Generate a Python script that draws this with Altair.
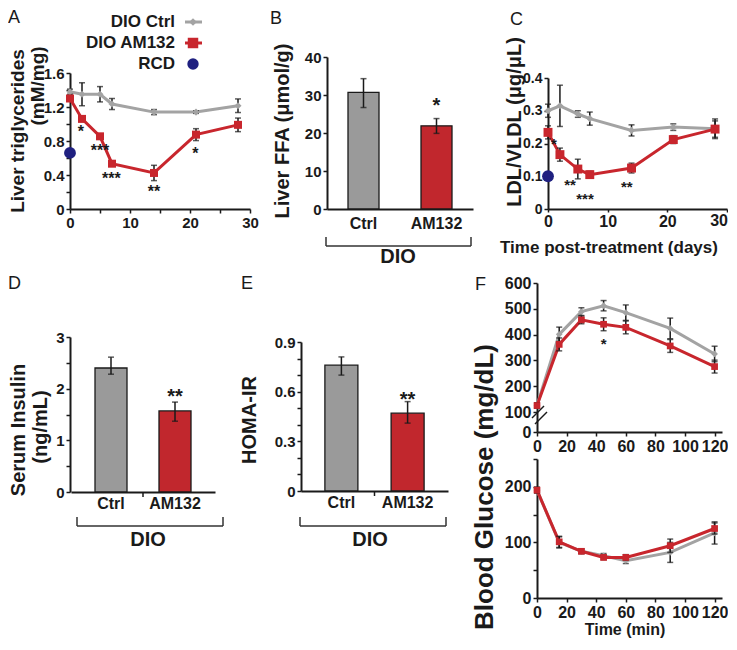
import altair as alt
import pandas as pd

FONT = "Liberation Sans"
RED = "#c8262d"
GRAY = "#a3a3a3"
NAVY = "#1f2080"
INK = "#1a1a1a"
BAR_GRAY = "#9a9a9a"
BAR_RED = "#c1272d"

# ---------------- data ----------------
# A: liver triglycerides (mM/mg) vs days
a_days = [0, 2, 5, 7, 14, 21, 28]
a_ctrl = [1.38, 1.35, 1.35, 1.235, 1.14, 1.14, 1.215]
a_ctrl_err = [0.03, 0.135, 0.09, 0.065, 0.03, 0.015, 0.08]
a_am = [1.30, 1.06, 0.855, 0.533, 0.424, 0.875, 0.99]
a_am_err = [0.03, 0.02, 0.03, 0.03, 0.09, 0.07, 0.08]
a_rcd = [0.66]
a_star_x = [1.8, 5.0, 6.9, 14, 20.9]
a_star_y = [0.95, 0.73, 0.40, 0.25, 0.69]
a_star_t = ["*", "***", "***", "**", "*"]

# B: liver FFA
groups = ["Ctrl", "AM132"]
bar_fill = [BAR_GRAY, BAR_RED]
b_mean = [30.7, 21.9]
b_lo = [26.7, 19.9]
b_hi = [34.3, 23.8]
b_star_y = [28.2]
b_star_t = ["*"]

# C: LDL/VLDL (ug/uL) vs days
c_days = [0, 2, 5, 7, 14, 21, 28]
c_ctrl = [0.30, 0.315, 0.29, 0.276, 0.24, 0.25, 0.245]
c_ctrl_err = [0.02, 0.063, 0.01, 0.02, 0.017, 0.01, 0.03]
c_am = [0.234, 0.166, 0.122, 0.105, 0.125, 0.212, 0.244]
c_am_err = [0.02, 0.02, 0.03, 0.01, 0.015, 0.012, 0.025]
c_rcd = [0.10]
c_star_x = [1.0, 3.7, 6.2, 13.2]
c_star_y = [0.21, 0.085, 0.043, 0.08]
c_star_t = ["*", "**", "***", "**"]

# D: serum insulin
d_mean = [2.40, 1.57]
d_lo = [2.28, 1.37]
d_hi = [2.61, 1.74]
d_star_y = [1.92]
d_star_t = ["**"]

# E: HOMA-IR
e_mean = [0.76, 0.47]
e_lo = [0.70, 0.41]
e_hi = [0.81, 0.54]
e_star_y = [0.574]
e_star_t = ["**"]

# F: blood glucose (mg/dL) vs time (min)
f_time = [0, 15, 30, 45, 60, 90, 120]
ft_ctrl = [125, 401, 489, 512, 485, 424, 325]
ft_ctrl_err = [10, 28, 15, 20, 30, 40, 30]
ft_am = [125, 362, 457, 440, 428, 356, 276]
ft_am_err = [10, 25, 15, 25, 25, 25, 25]
ft_star_x = [45]
ft_star_y = [379]
ft_star_t = ["*"]
fb_ctrl = [194, 100, 84, 76, 67, 82, 117]
fb_ctrl_err = [5, 10, 4, 4, 5, 18, 20]
fb_am = [194, 101, 84, 73, 73, 94, 125]
fb_am_err = [5, 10, 4, 4, 5, 12, 10]

one = pd.DataFrame({"k": [0]})


def T(s, x, y, size, angle=0, align="center", baseline="middle", weight="bold", color=INK):
    return alt.Chart(one).mark_text(
        text=s, font=FONT, fontSize=size, fontWeight=weight, angle=angle,
        align=align, baseline=baseline, color=color
    ).encode(x=alt.value(x), y=alt.value(y))


def R(x1, y1, x2, y2, color=INK, w=1.5):
    return alt.Chart(one).mark_rule(color=color, strokeWidth=w).encode(
        x=alt.value(x1), y=alt.value(y1), x2=alt.value(x2), y2=alt.value(y2))


def P(x, y, shape, color, size):
    return alt.Chart(one).mark_point(shape=shape, filled=True, opacity=1, color=color, size=size).encode(
        x=alt.value(x), y=alt.value(y))


def qaxis(values, expr=None, size=15, tick=4, pad=2, flush=False):
    kw = dict(values=values, title=None, grid=False, labelFont=FONT, labelFontWeight="bold",
              labelFontSize=size, labelColor=INK, domainColor=INK, domainWidth=2,
              tickColor=INK, tickWidth=1.5, tickSize=tick, labelPadding=pad,
              labelOverlap=False, labelFlush=flush)
    if expr:
        kw["labelExpr"] = expr
    return alt.Axis(**kw)


def line_layers(x, ctrl, ctrl_err, am, am_err, xs, ys, xa, ya, csize, asize):
    X = alt.X("x:Q", scale=xs, axis=xa)
    out = []
    for mean, err, color, shape, size in [(ctrl, ctrl_err, GRAY, "diamond", csize),
                                          (am, am_err, RED, "square", asize)]:
        df = pd.DataFrame({"x": x, "y": mean,
                           "lo": [m - e for m, e in zip(mean, err)],
                           "hi": [m + e for m, e in zip(mean, err)]})
        b = alt.Chart(df)
        out += [
            b.mark_line(color=color, strokeWidth=3).encode(x=X, y=alt.Y("y:Q", scale=ys, axis=ya)),
            b.mark_rule(color=INK, strokeWidth=1.5).encode(x=X, y=alt.Y("lo:Q", scale=ys, axis=ya), y2="hi:Q"),
            b.mark_tick(color=INK, orient="horizontal", size=6, thickness=1.5).encode(x=X, y=alt.Y("lo:Q", scale=ys, axis=ya)),
            b.mark_tick(color=INK, orient="horizontal", size=6, thickness=1.5).encode(x=X, y=alt.Y("hi:Q", scale=ys, axis=ya)),
            b.mark_point(shape=shape, filled=True, opacity=1, size=size, color=color).encode(x=X, y=alt.Y("y:Q", scale=ys, axis=ya)),
        ]
    return out, X


def star_layer(xv, yv, tv, X, ys, ya, size=16):
    df = pd.DataFrame({"x": xv, "y": yv, "t": tv})
    return alt.Chart(df).mark_text(font=FONT, fontWeight="bold", fontSize=size, color=INK, dy=4).encode(
        x=X, y=alt.Y("y:Q", scale=ys, axis=ya), text="t:N")


def bar_layers(mean, lo, hi, star_y, star_t, xs, ys, ya, bw, label_pad):
    xa = alt.Axis(title=None, labelAngle=0, ticks=False, domainColor=INK, domainWidth=2,
                  labelFont=FONT, labelFontWeight="bold", labelFontSize=16, labelColor=INK,
                  labelPadding=label_pad)
    X = alt.X("g:N", scale=xs, axis=xa, sort=groups)
    df = pd.DataFrame({"g": groups, "v": mean, "lo": lo, "hi": hi, "fill": bar_fill})
    b = alt.Chart(df)
    sdf = pd.DataFrame({"g": ["AM132"], "y": star_y, "t": star_t})
    return [
        b.mark_bar(width=bw, stroke=INK, strokeWidth=1.3).encode(
            x=X, y=alt.Y("v:Q", scale=ys, axis=ya), color=alt.Color("fill:N", scale=None)),
        b.mark_rule(color=INK, strokeWidth=1.5).encode(x=X, y=alt.Y("lo:Q", scale=ys, axis=ya), y2="hi:Q"),
        b.mark_tick(color=INK, orient="horizontal", size=6, thickness=1.5).encode(x=X, y=alt.Y("lo:Q", scale=ys, axis=ya)),
        b.mark_tick(color=INK, orient="horizontal", size=6, thickness=1.5).encode(x=X, y=alt.Y("hi:Q", scale=ys, axis=ya)),
        alt.Chart(sdf).mark_text(font=FONT, fontWeight="bold", fontSize=20, color=INK, dy=4).encode(
            x=X, y=alt.Y("y:Q", scale=ys, axis=ya), text="t:N"),
    ]


def bracket(x1, x2, y, ytop, label_x, label_y):
    return [R(x1, y, x2, y, color="#333333"), R(x1, ytop, x1, y, color="#333333"),
            R(x2, ytop, x2, y, color="#333333"), T("DIO", label_x, label_y, 20)]


# ---------------- panel A ----------------
xsA = alt.Scale(domain=[0, 30], range=[0, 180], nice=False, zero=False)
ysA = alt.Scale(domain=[0, 1.6], range=[152, 16], nice=False, zero=False)
xaA = qaxis([0, 5, 10, 15, 20, 25, 30], size=15, tick=4, pad=2,
            expr="datum.value % 10 == 0 ? format(datum.value, 'd') : ''")
yaA = qaxis([round(i * 0.2, 1) for i in range(9)],
            expr="round(datum.value*10) % 4 == 0 ? (datum.value == 0 ? '0' : format(datum.value, '.1f')) : ''")
la, XA = line_layers(a_days, a_ctrl, a_ctrl_err, a_am, a_am_err, xsA, ysA, xaA, yaA, 50, 64)
rcdA = alt.Chart(pd.DataFrame({"x": [0], "y": a_rcd})).mark_point(
    shape="circle", filled=True, opacity=1, size=140, color=NAVY).encode(
    x=XA, y=alt.Y("y:Q", scale=ysA, axis=yaA))
panelA = alt.layer(
    *la, rcdA,
    star_layer(a_star_x, a_star_y, a_star_t, XA, ysA, yaA),
    P(-61.5, -48.5, "square", "white", 1),
    P(-61.5, 215.5, "square", "white", 1),
    T("A", -62, -48, 18, align="left", baseline="top", weight="normal"),
    T("Liver triglycerides", -52, 74, 19, angle=270),
    T("(mM/mg)", -32, 29, 19, angle=270),
    T("DIO Ctrl", 105, -35, 17, align="right"),
    R(115, -35, 132, -35, color=GRAY, w=3), P(123, -35, "diamond", GRAY, 60),
    T("DIO AM132", 105, -14, 17, align="right"),
    R(115, -14, 132, -14, color=RED, w=3), P(123, -14, "square", RED, 110),
    T("RCD", 105, 7, 17, align="right"),
    P(123, 7, "circle", NAVY, 130),
).properties(width=257, height=152)

# ---------------- panel B ----------------
xsB = alt.Scale(domain=groups, range=[0, 146], paddingInner=0, paddingOuter=0)
ysB = alt.Scale(domain=[0, 40], range=[152, 0], nice=False, zero=False)
yaB = qaxis([0, 10, 20, 30, 40])
panelB = alt.layer(
    *bar_layers(b_mean, b_lo, b_hi, b_star_y, b_star_t, xsB, ysB, yaB, 31, 6),
    T("B", -57, -47, 18, align="left", baseline="top", weight="normal"),
    T("Liver FFA (μmol/g)", -44, 74, 20, angle=270),
    *bracket(-1, 144, 189, 180, 71, 200),
).properties(width=221, height=152)

# ---------------- panel C ----------------
xsC = alt.Scale(domain=[0, 30], range=[0, 179], nice=False, zero=False)
ysC = alt.Scale(domain=[0, 0.4], range=[152, 21], nice=False, zero=False)
xaC = qaxis([0, 10, 20, 30], size=16, tick=3, pad=1,
            expr="datum.value == 30 ? '' : format(datum.value, 'd')")
yaC = qaxis([0, 0.1, 0.2, 0.3, 0.4], size=14,
            expr="datum.value == 0 ? '0' : format(datum.value, '.1f')")
lc, XC = line_layers(c_days, c_ctrl, c_ctrl_err, c_am, c_am_err, xsC, ysC, xaC, yaC, 50, 80)
rcdC = alt.Chart(pd.DataFrame({"x": [0], "y": c_rcd})).mark_point(
    shape="circle", filled=True, opacity=1, size=140, color=NAVY).encode(
    x=XC, y=alt.Y("y:Q", scale=ysC, axis=yaC))
panelC = alt.layer(
    *lc, rcdC,
    star_layer(c_star_x, c_star_y, c_star_t, XC, ysC, yaC, size=15),
    T("30", 180, 156, 16, align="right", baseline="top"),
    T("C", -38, -46, 18, align="left", baseline="top", weight="normal"),
    T("LDL/VLDL (μg/μL)", -33, 65, 20, angle=270),
    T("Time post-treatment (days)", 61, 191, 17),
).properties(width=180, height=152)

# ---------------- panel D ----------------
xsD = alt.Scale(domain=groups, range=[1, 145], paddingInner=0, paddingOuter=0.125)
ysD = alt.Scale(domain=[0, 3], range=[209, 54], nice=False, zero=False)
yaD = qaxis([0, 0.5, 1, 1.5, 2, 2.5, 3], expr="datum.value % 1 == 0 ? format(datum.value, 'd') : ''")
panelD = alt.layer(
    *bar_layers(d_mean, d_lo, d_hi, d_star_y, d_star_t, xsD, ysD, yaD, 32, 3),
    P(-61.5, -9.5, "square", "white", 1),
    R(73, 209, 73, 214),
    T("D", -62, -8, 18, align="left", baseline="top", weight="normal"),
    T("Serum Insulin", -51, 147, 20, angle=270),
    T("(ng/mL)", -29, 144, 20, angle=270),
    *bracket(7, 153, 243, 234, 78, 257),
).properties(width=231, height=209)

# ---------------- panel E ----------------
xsE = alt.Scale(domain=groups, range=[0, 147], paddingInner=0, paddingOuter=0.11)
ysE = alt.Scale(domain=[0, 0.9], range=[208, 59], nice=False, zero=False)
yaE = qaxis([round(i * 0.1, 1) for i in range(10)],
            expr="round(datum.value*10) % 3 == 0 ? (datum.value == 0 ? '0' : format(datum.value, '.1f')) : ''")
panelE = alt.layer(
    *bar_layers(e_mean, e_lo, e_hi, e_star_y, e_star_t, xsE, ysE, yaE, 33, 3),
    R(73.5, 208, 73.5, 213),
    T("E", -60, -8, 18, align="left", baseline="top", weight="normal"),
    T("HOMA-IR", -51, 137, 20, angle=270),
    *bracket(-1, 145, 243, 234, 69, 257),
).properties(width=236, height=208)

# ---------------- panel F ----------------
xsF = alt.Scale(domain=[0, 125], range=[0, 185], nice=False, zero=False)
xaF = qaxis([0, 20, 40, 60, 80, 100, 120], size=16)
ysFt = alt.Scale(domain=[0, 100, 600], range=[149, 129, 0], nice=False, zero=False)
yaFt = qaxis([0, 100, 200, 300, 400, 500, 600], size=16)
lft, XF = line_layers(f_time, ft_ctrl, ft_ctrl_err, ft_am, ft_am_err, xsF, ysFt, xaF, yaFt, 45, 45)
panelFt = alt.layer(
    *lft,
    star_layer(ft_star_x, ft_star_y, ft_star_t, XF, ysFt, yaFt, size=15),
    R(-5, 135, 7, 123), R(-2, 141, 10, 129),
    T("F", -62, -7, 18, align="left", baseline="top", weight="normal"),
    T("Blood Glucose (mg/dL)", -52, 204, 26, angle=270),
).properties(width=185, height=149)

ysFb = alt.Scale(domain=[0, 250], range=[139, 0], nice=False, zero=False)
yaFb = qaxis([0, 50, 100, 150, 200, 250], size=16,
             expr="datum.value % 100 == 0 ? format(datum.value, 'd') : ''")
lfb, _ = line_layers(f_time, fb_ctrl, fb_ctrl_err, fb_am, fb_am_err, xsF, ysFb, xaF, yaFb, 45, 45)
panelFb = alt.layer(
    *lfb,
    T("Time (min)", 88, 171, 16),
).properties(width=185, height=139)

top = alt.hconcat(panelA, panelB, panelC, spacing=0, bounds="flush")
fcol = alt.vconcat(panelFt, panelFb, spacing=27, bounds="flush")
bottom = alt.hconcat(panelD, panelE, fcol, spacing=0, bounds="flush")
chart = alt.vconcat(top, bottom, spacing=0, bounds="full").properties(
    padding=0
).configure_view(stroke=None)

chart.save("out.html", embed_options={"renderer": "svg", "actions": False})
